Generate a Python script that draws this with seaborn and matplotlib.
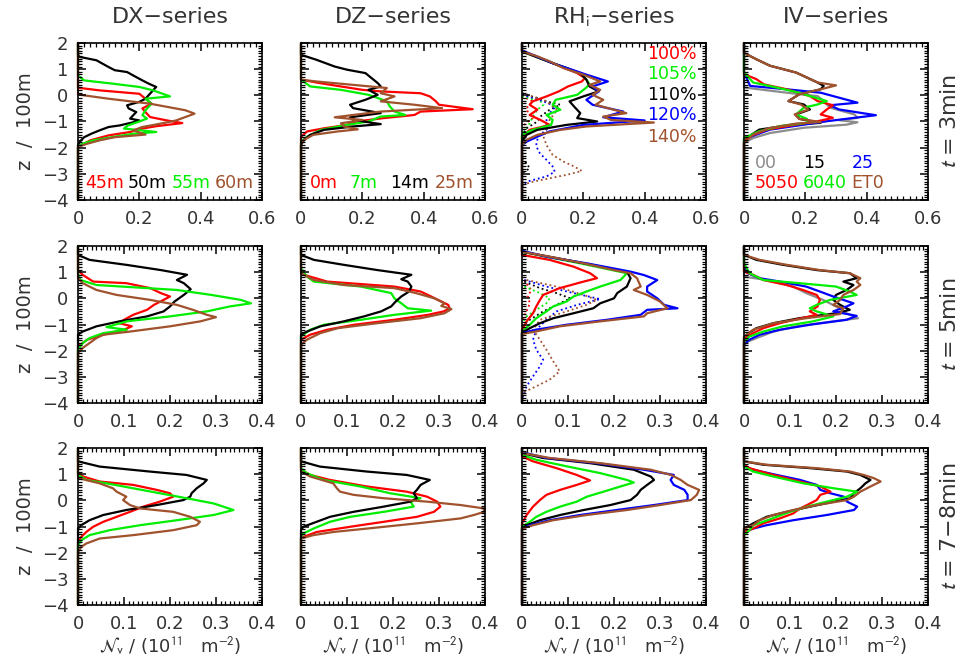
import matplotlib
matplotlib.use("Agg")
import matplotlib.pyplot as plt
import seaborn as sns
import pandas as pd
from matplotlib.ticker import MultipleLocator, FuncFormatter

# ---------------- data: vertical profiles, points are (N_v, z) ----------------
# DX-series, t = 3 min
dx3_45m = [(0.0, 0.29), (0.07, 0.19), (0.20, 0.06), (0.22, -0.13), (0.24, -0.32), (0.21, -0.50), (0.22, -0.64),
           (0.235, -0.83), (0.29, -0.96), (0.34, -1.06), (0.255, -1.18), (0.21, -1.27), (0.17, -1.40), (0.10, -1.53),
           (0.04, -1.72), (0.01, -1.91), (0.0, -1.98)]
dx3_50m = [(0.0, 1.55), (0.005, 1.47), (0.06, 1.34), (0.10, 1.08), (0.12, 0.96), (0.16, 0.89), (0.18, 0.76),
           (0.21, 0.57), (0.23, 0.45), (0.255, 0.32), (0.25, 0.26), (0.24, 0.13), (0.23, 0.0), (0.22, -0.13),
           (0.20, -0.25), (0.16, -0.38), (0.165, -0.50), (0.19, -0.64), (0.18, -0.76), (0.17, -0.89), (0.20, -0.96),
           (0.18, -1.03), (0.136, -1.15), (0.10, -1.21), (0.07, -1.34), (0.043, -1.47), (0.02, -1.60), (0.01, -1.72),
           (0.0, -1.90)]
dx3_55m = [(0.0, 0.76), (0.02, 0.57), (0.11, 0.45), (0.20, 0.32), (0.245, 0.19), (0.30, -0.04), (0.22, -0.13),
           (0.24, -0.32), (0.22, -0.57), (0.21, -0.76), (0.225, -0.89), (0.195, -1.02), (0.163, -1.15), (0.15, -1.27),
           (0.255, -1.40), (0.18, -1.47), (0.11, -1.60), (0.05, -1.72), (0.015, -1.85), (0.0, -1.97)]
dx3_60m = [(0.0, 0.03), (0.10, -0.13), (0.235, -0.32), (0.35, -0.57), (0.38, -0.70), (0.35, -0.83), (0.32, -0.96),
           (0.27, -1.08), (0.21, -1.21), (0.18, -1.34), (0.22, -1.50), (0.12, -1.60), (0.07, -1.72), (0.03, -1.85),
           (0.0, -1.97)]

# DZ-series, t = 3 min
dz3_0m = [(0.0, 0.60), (0.06, 0.47), (0.20, 0.21), (0.26, 0.15), (0.39, 0.08), (0.42, -0.04), (0.44, -0.23),
          (0.45, -0.36), (0.56, -0.53), (0.39, -0.62), (0.37, -0.75), (0.27, -0.87), (0.18, -1.00), (0.15, -1.13),
          (0.075, -1.26), (0.02, -1.38), (0.0, -1.58)]
dz3_7m = [(0.0, 0.60), (0.03, 0.34), (0.13, 0.21), (0.22, 0.02), (0.25, -0.10), (0.28, -0.23), (0.29, -0.43),
          (0.305, -0.62), (0.34, -0.75), (0.26, -0.81), (0.22, -1.00), (0.15, -1.13), (0.065, -1.32), (0.02, -1.58),
          (0.0, -1.77)]
dz3_14m = [(0.0, 1.55), (0.05, 1.36), (0.11, 1.10), (0.15, 0.98), (0.21, 0.85), (0.23, 0.66), (0.25, 0.47),
           (0.26, 0.34), (0.22, 0.21), (0.25, 0.02), (0.21, -0.17), (0.16, -0.36), (0.17, -0.49), (0.26, -0.68),
           (0.16, -0.84), (0.17, -0.94), (0.26, -1.10), (0.17, -1.19), (0.075, -1.32), (0.03, -1.51), (0.01, -1.70),
           (0.0, -1.90)]
dz3_25m = [(0.0, 0.60), (0.05, 0.53), (0.28, 0.28), (0.26, 0.08), (0.305, -0.04), (0.26, -0.23), (0.37, -0.36),
           (0.46, -0.49), (0.26, -0.62), (0.17, -0.75), (0.11, -0.84), (0.20, -0.94), (0.13, -1.07), (0.14, -1.19),
           (0.185, -1.30), (0.12, -1.38), (0.04, -1.51), (0.01, -1.70), (0.0, -1.83)]

# RHi-series, t = 3 min (solid: total, dotted: second population)
rh3_100 = [(0.0, 1.68), (0.10, 1.23), (0.18, 0.85), (0.205, 0.66), (0.195, 0.53), (0.15, 0.34), (0.12, 0.15),
           (0.08, -0.04), (0.035, -0.23), (0.025, -0.36), (0.05, -0.55), (0.025, -0.75), (0.06, -0.94), (0.09, -1.13),
           (0.025, -1.32), (0.0, -1.58)]
rh3_105 = [(0.0, 1.68), (0.10, 1.23), (0.19, 0.85), (0.21, 0.60), (0.22, 0.43), (0.21, 0.30), (0.18, 0.02),
           (0.11, -0.17), (0.10, -0.36), (0.125, -0.55), (0.08, -0.75), (0.10, -0.94), (0.095, -1.13), (0.035, -1.32),
           (0.0, -1.51)]
rh3_110 = [(0.0, 1.68), (0.10, 1.23), (0.19, 0.85), (0.21, 0.60), (0.22, 0.34), (0.25, 0.15), (0.20, -0.04),
           (0.155, -0.23), (0.17, -0.43), (0.19, -0.68), (0.18, -0.87), (0.245, -1.00), (0.145, -1.13), (0.05, -1.32),
           (0.015, -1.51), (0.0, -1.77)]
rh3_120 = [(0.0, 1.72), (0.10, 1.23), (0.21, 0.79), (0.28, 0.53), (0.23, 0.34), (0.25, 0.15), (0.21, -0.17),
           (0.23, -0.36), (0.33, -0.62), (0.265, -0.84), (0.40, -0.96), (0.20, -1.13), (0.09, -1.38), (0.05, -1.58),
           (0.015, -1.77), (0.0, -1.90)]
rh3_140 = [(0.0, 1.68), (0.05, 1.49), (0.09, 1.30), (0.135, 1.04), (0.20, 0.79), (0.255, 0.53), (0.22, 0.40),
           (0.255, 0.21), (0.23, 0.02), (0.265, -0.17), (0.24, -0.36), (0.34, -0.68), (0.265, -0.81), (0.29, -0.94),
           (0.43, -1.04), (0.21, -1.19), (0.125, -1.32), (0.05, -1.51), (0.015, -1.70), (0.0, -1.90)]
rh3_100d = [(0.0, -0.04), (0.035, -0.23), (0.025, -0.36), (0.015, -0.49), (0.02, -0.68), (0.035, -0.87),
            (0.02, -1.00), (0.0, -1.20)]
rh3_105d = [(0.0, -0.04), (0.06, -0.23), (0.07, -0.36), (0.05, -0.55), (0.035, -0.81), (0.025, -1.07),
            (0.01, -1.32), (0.0, -1.50)]
rh3_110d = [(0.0, 0.03), (0.05, -0.10), (0.08, -0.23), (0.125, -0.36), (0.09, -0.55), (0.06, -0.81), (0.05, -1.00),
            (0.015, -1.26), (0.0, -1.60), (0.0, -2.40), (0.015, -2.60), (0.025, -2.79), (0.0, -2.98)]
rh3_120d = [(0.0, 0.03), (0.07, -0.23), (0.11, -0.43), (0.09, -0.68), (0.08, -0.94), (0.08, -1.32), (0.058, -1.51),
            (0.047, -1.77), (0.047, -1.96), (0.058, -2.21), (0.08, -2.47), (0.10, -2.72), (0.107, -2.92),
            (0.08, -3.10), (0.015, -3.30), (0.0, -3.50)]
rh3_140d = [(0.0, 0.10), (0.08, -0.23), (0.115, -0.55), (0.09, -0.94), (0.08, -1.32), (0.07, -1.58), (0.08, -1.90),
            (0.10, -2.28), (0.135, -2.53), (0.17, -2.72), (0.195, -2.89), (0.145, -3.04), (0.09, -3.17),
            (0.036, -3.30), (0.0, -3.43)]

# IV-series, t = 3 min
iv3_00 = [(0.0, 0.30), (0.14, 0.10), (0.24, -0.03), (0.26, -0.22), (0.28, -0.47), (0.36, -0.73), (0.37, -0.86),
          (0.31, -0.95), (0.37, -1.03), (0.335, -1.12), (0.195, -1.24), (0.085, -1.44), (0.03, -1.63), (0.0, -1.82)]
iv3_15 = [(0.0, 1.62), (0.04, 1.38), (0.085, 1.13), (0.17, 0.87), (0.205, 0.68), (0.24, 0.49), (0.26, 0.36),
          (0.25, 0.23), (0.18, 0.04), (0.145, -0.22), (0.195, -0.35), (0.215, -0.54), (0.17, -0.73), (0.18, -0.90),
          (0.25, -1.05), (0.14, -1.15), (0.05, -1.31), (0.025, -1.50), (0.01, -1.66), (0.0, -1.82)]
iv3_25 = [(0.0, 0.87), (0.02, 0.36), (0.14, 0.23), (0.25, 0.10), (0.31, -0.09), (0.37, -0.28), (0.28, -0.38),
          (0.31, -0.54), (0.43, -0.76), (0.36, -0.86), (0.27, -0.99), (0.195, -1.12), (0.085, -1.31), (0.04, -1.50),
          (0.0, -1.69)]
iv3_5050 = [(0.0, 0.81), (0.04, 0.62), (0.065, 0.42), (0.14, 0.23), (0.215, -0.03), (0.24, -0.22), (0.29, -0.38),
            (0.27, -0.54), (0.25, -0.73), (0.29, -0.86), (0.24, -0.99), (0.17, -1.12), (0.075, -1.31), (0.02, -1.56),
            (0.0, -1.75)]
iv3_6040 = [(0.0, 0.87), (0.02, 0.62), (0.03, 0.49), (0.105, 0.30), (0.18, 0.10), (0.215, -0.03), (0.27, -0.22),
            (0.24, -0.35), (0.195, -0.47), (0.17, -0.73), (0.205, -0.90), (0.205, -1.05), (0.12, -1.17),
            (0.05, -1.37), (0.0, -1.63)]
iv3_et0 = [(0.0, 1.62), (0.04, 1.38), (0.085, 1.13), (0.17, 0.87), (0.205, 0.68), (0.24, 0.49), (0.30, 0.38),
           (0.25, 0.23), (0.18, 0.04), (0.145, -0.22), (0.185, -0.35), (0.21, -0.54), (0.165, -0.73), (0.18, -0.90),
           (0.25, -1.02), (0.17, -1.08), (0.08, -1.26), (0.03, -1.50), (0.0, -1.82)]

# DX-series, t = 5 min
dx5_45m = [(0.0, 1.08), (0.01, 0.90), (0.033, 0.64), (0.105, 0.58), (0.157, 0.39), (0.18, 0.20), (0.20, 0.07),
           (0.186, -0.06), (0.165, -0.25), (0.15, -0.44), (0.12, -0.63), (0.10, -0.82), (0.09, -0.95), (0.117, -1.07),
           (0.10, -1.20), (0.055, -1.39), (0.02, -1.58), (0.0, -1.84)]
dx5_50m = [(0.0, 1.66), (0.025, 1.47), (0.105, 1.28), (0.18, 1.08), (0.237, 0.90), (0.215, 0.70), (0.23, 0.58),
           (0.245, 0.35), (0.23, 0.13), (0.21, -0.12), (0.20, -0.31), (0.186, -0.50), (0.15, -0.69), (0.09, -0.88),
           (0.04, -1.07), (0.01, -1.27), (0.0, -1.39)]
dx5_55m = [(0.0, 0.96), (0.005, 0.70), (0.04, 0.51), (0.215, 0.32), (0.29, 0.13), (0.354, -0.06), (0.376, -0.19),
           (0.33, -0.31), (0.28, -0.50), (0.20, -0.69), (0.106, -0.88), (0.062, -1.10), (0.106, -1.20),
           (0.055, -1.33), (0.025, -1.52), (0.01, -1.71), (0.0, -1.96)]
dx5_60m = [(0.0, 0.77), (0.01, 0.58), (0.04, 0.32), (0.084, 0.13), (0.157, -0.06), (0.215, -0.25), (0.25, -0.44),
           (0.28, -0.63), (0.30, -0.72), (0.266, -0.88), (0.20, -1.07), (0.113, -1.27), (0.055, -1.39), (0.04, -1.52),
           (0.025, -1.71), (0.01, -1.90), (0.0, -2.09)]

# DZ-series, t = 5 min
dz5_0m = [(0.0, 1.02), (0.006, 0.90), (0.057, 0.64), (0.203, 0.45), (0.26, 0.26), (0.283, 0.07), (0.305, -0.12),
          (0.32, -0.25), (0.323, -0.38), (0.31, -0.50), (0.276, -0.63), (0.203, -0.82), (0.115, -1.01),
          (0.057, -1.20), (0.02, -1.39), (0.0, -1.58)]
dz5_7m = [(0.0, 1.15), (0.013, 0.83), (0.028, 0.64), (0.13, 0.45), (0.196, 0.20), (0.203, 0.0), (0.218, -0.19),
          (0.232, -0.38), (0.283, -0.47), (0.203, -0.63), (0.13, -0.82), (0.05, -1.01), (0.02, -1.20), (0.0, -1.46)]
dz5_14m = [(0.0, 1.66), (0.028, 1.47), (0.093, 1.28), (0.166, 1.08), (0.24, 0.90), (0.218, 0.73), (0.232, 0.64),
           (0.24, 0.45), (0.235, 0.26), (0.218, 0.07), (0.206, -0.12), (0.196, -0.31), (0.174, -0.50),
           (0.137, -0.69), (0.093, -0.88), (0.042, -1.07), (0.013, -1.27), (0.0, -1.39)]
dz5_25m = [(0.0, 0.96), (0.028, 0.70), (0.093, 0.51), (0.203, 0.39), (0.25, 0.20), (0.29, 0.0), (0.312, -0.19),
           (0.305, -0.29), (0.327, -0.41), (0.312, -0.57), (0.26, -0.76), (0.166, -0.95), (0.08, -1.14),
           (0.042, -1.33), (0.013, -1.58), (0.0, -1.77)]

# RHi-series, t = 5 min
rh5_100 = [(0.0, 1.66), (0.06, 1.47), (0.112, 1.21), (0.148, 0.96), (0.163, 0.77), (0.134, 0.64), (0.082, 0.39),
           (0.046, 0.13), (0.039, -0.06), (0.031, -0.31), (0.024, -0.57), (0.01, -0.88), (0.0, -1.20)]
rh5_105 = [(0.0, 1.78), (0.053, 1.59), (0.126, 1.34), (0.228, 0.96), (0.214, 0.70), (0.17, 0.45), (0.14, 0.26),
           (0.112, 0.07), (0.097, -0.12), (0.068, -0.31), (0.053, -0.50), (0.031, -0.76), (0.017, -1.01),
           (0.0, -1.27)]
rh5_110 = [(0.0, 1.78), (0.06, 1.59), (0.134, 1.34), (0.228, 1.02), (0.236, 0.77), (0.228, 0.45), (0.207, 0.20),
           (0.20, 0.0), (0.17, -0.19), (0.155, -0.38), (0.112, -0.57), (0.068, -0.76), (0.039, -0.95),
           (0.017, -1.14), (0.0, -1.33)]
rh5_120 = [(0.0, 1.82), (0.053, 1.59), (0.14, 1.34), (0.236, 1.02), (0.265, 0.89), (0.294, 0.70), (0.272, 0.45),
           (0.272, 0.26), (0.294, 0.0), (0.309, -0.25), (0.338, -0.38), (0.272, -0.44), (0.258, -0.63),
           (0.185, -0.82), (0.097, -1.01), (0.03, -1.20), (0.0, -1.33)]
rh5_140 = [(0.0, 1.78), (0.06, 1.59), (0.134, 1.34), (0.20, 1.08), (0.236, 0.96), (0.25, 0.77), (0.258, 0.45),
           (0.243, 0.32), (0.272, 0.13), (0.30, -0.12), (0.316, -0.38), (0.272, -0.57), (0.265, -0.69),
           (0.17, -0.88), (0.082, -1.07), (0.03, -1.27), (0.0, -1.36)]
rh5_100d = [(0.005, 0.70), (0.02, 0.32), (0.013, 0.07), (0.017, -0.19), (0.01, -0.50), (0.0, -0.82)]
rh5_105d = [(0.005, 0.45), (0.039, 0.20), (0.06, 0.0), (0.053, -0.19), (0.031, -0.44), (0.01, -0.69),
            (0.0, -0.95)]
rh5_110d = [(0.005, 0.64), (0.039, 0.39), (0.075, 0.20), (0.105, 0.0), (0.075, -0.25), (0.046, -0.50),
            (0.017, -0.82), (0.0, -1.07)]
rh5_120d = [(0.005, 0.70), (0.053, 0.45), (0.112, 0.20), (0.17, -0.03), (0.12, -0.25), (0.075, -0.50),
            (0.053, -0.82), (0.031, -1.20), (0.024, -1.58), (0.031, -1.96), (0.046, -2.35), (0.039, -2.60),
            (0.024, -2.98), (0.01, -3.36), (0.0, -3.85)]
rh5_140d = [(0.01, 0.70), (0.075, 0.45), (0.134, 0.13), (0.163, -0.06), (0.14, -0.25), (0.097, -0.50),
            (0.039, -0.82), (0.024, -1.20), (0.039, -1.58), (0.053, -1.96), (0.068, -2.41), (0.082, -2.79),
            (0.06, -3.11), (0.031, -3.36), (0.0, -3.62)]

# IV-series, t = 5 min
iv5_00 = [(0.0, 0.83), (0.049, 0.70), (0.107, 0.45), (0.135, 0.20), (0.172, -0.06), (0.20, -0.31), (0.223, -0.57),
          (0.248, -0.76), (0.194, -0.88), (0.114, -1.07), (0.064, -1.27), (0.027, -1.52), (0.0, -1.71)]
iv5_15 = [(0.0, 1.66), (0.027, 1.47), (0.085, 1.28), (0.158, 1.08), (0.23, 0.96), (0.245, 0.77), (0.216, 0.64),
          (0.238, 0.51), (0.223, 0.32), (0.20, 0.13), (0.194, -0.06), (0.209, -0.25), (0.23, -0.44), (0.20, -0.57),
          (0.12, -0.76), (0.064, -0.95), (0.027, -1.14), (0.01, -1.33), (0.0, -1.52)]
iv5_25 = [(0.0, 1.21), (0.008, 0.96), (0.034, 0.77), (0.078, 0.64), (0.135, 0.45), (0.165, 0.26), (0.194, 0.07),
          (0.238, -0.19), (0.223, -0.31), (0.194, -0.50), (0.245, -0.67), (0.223, -0.82), (0.143, -1.01),
          (0.078, -1.20), (0.034, -1.39), (0.012, -1.58), (0.0, -1.77)]
iv5_5050 = [(0.0, 1.02), (0.02, 0.90), (0.042, 0.70), (0.093, 0.51), (0.128, 0.32), (0.158, 0.13), (0.165, -0.06),
            (0.16, -0.31), (0.143, -0.50), (0.158, -0.63), (0.12, -0.78), (0.078, -0.95), (0.042, -1.14),
            (0.02, -1.33), (0.0, -1.52)]
iv5_6040 = [(0.0, 1.34), (0.012, 0.96), (0.042, 0.70), (0.12, 0.58), (0.20, 0.45), (0.23, 0.26), (0.245, 0.13),
            (0.187, -0.06), (0.158, -0.25), (0.143, -0.38), (0.158, -0.50), (0.194, -0.69), (0.15, -0.88),
            (0.085, -1.07), (0.042, -1.27), (0.012, -1.46), (0.0, -1.65)]
iv5_et0 = [(0.0, 1.66), (0.034, 1.47), (0.093, 1.28), (0.165, 1.08), (0.23, 0.96), (0.253, 0.77), (0.245, 0.64),
           (0.253, 0.51), (0.238, 0.32), (0.216, 0.13), (0.209, -0.06), (0.194, -0.25), (0.216, -0.38),
           (0.209, -0.60), (0.135, -0.76), (0.064, -0.95), (0.02, -1.20), (0.0, -1.46)]

# DX-series, t = 7-8 min
dx7_45m = [(0.0, 1.04), (0.011, 0.91), (0.047, 0.72), (0.12, 0.59), (0.171, 0.40), (0.20, 0.27), (0.207, 0.14),
           (0.178, -0.05), (0.142, -0.24), (0.113, -0.44), (0.084, -0.63), (0.055, -0.82), (0.033, -1.01),
           (0.018, -1.21), (0.007, -1.40), (0.0, -1.59)]
dx7_50m = [(0.0, 1.49), (0.047, 1.29), (0.156, 1.10), (0.236, 0.97), (0.28, 0.78), (0.273, 0.65), (0.258, 0.46),
           (0.247, 0.27), (0.244, 0.14), (0.229, 0.01), (0.171, -0.18), (0.105, -0.37), (0.055, -0.56),
           (0.025, -0.76), (0.007, -0.95), (0.0, -1.08)]
dx7_55m = [(0.0, 0.97), (0.018, 0.78), (0.062, 0.65), (0.12, 0.46), (0.178, 0.27), (0.236, 0.08), (0.295, -0.12),
           (0.338, -0.37), (0.295, -0.56), (0.215, -0.76), (0.135, -0.95), (0.069, -1.14), (0.025, -1.33),
           (0.007, -1.53), (0.0, -1.72)]
dx7_60m = [(0.0, 0.85), (0.047, 0.65), (0.076, 0.46), (0.084, 0.33), (0.105, 0.14), (0.098, 0.01), (0.113, -0.18),
           (0.135, -0.31), (0.207, -0.44), (0.244, -0.63), (0.265, -0.82), (0.258, -0.95), (0.207, -1.14),
           (0.12, -1.33), (0.047, -1.46), (0.018, -1.65), (0.007, -1.78), (0.0, -1.97)]

# DZ-series, t = 7-8 min
dz7_0m = [(0.0, 1.17), (0.02, 0.97), (0.063, 0.78), (0.143, 0.53), (0.23, 0.33), (0.274, 0.14), (0.296, -0.05),
          (0.303, -0.24), (0.289, -0.44), (0.252, -0.63), (0.18, -0.82), (0.107, -1.01), (0.034, -1.21),
          (0.005, -1.40), (0.0, -1.46)]
dz7_7m = [(0.0, 1.23), (0.012, 1.04), (0.049, 0.78), (0.129, 0.53), (0.194, 0.27), (0.26, 0.08), (0.238, -0.05),
          (0.245, -0.24), (0.18, -0.44), (0.107, -0.63), (0.063, -0.82), (0.027, -1.08), (0.005, -1.27),
          (0.0, -1.40)]
dz7_14m = [(0.0, 1.49), (0.041, 1.29), (0.143, 1.10), (0.23, 0.97), (0.28, 0.78), (0.26, 0.59), (0.252, 0.40),
           (0.245, 0.27), (0.252, 0.08), (0.238, -0.05), (0.18, -0.24), (0.114, -0.44), (0.063, -0.63),
           (0.034, -0.82), (0.005, -1.01), (0.0, -1.14)]
dz7_25m = [(0.0, 1.10), (0.02, 0.91), (0.07, 0.65), (0.078, 0.46), (0.085, 0.33), (0.114, 0.21), (0.18, 0.08),
           (0.274, -0.05), (0.347, -0.18), (0.398, -0.31), (0.398, -0.44), (0.376, -0.56), (0.347, -0.69),
           (0.252, -0.88), (0.143, -1.08), (0.07, -1.21), (0.027, -1.33), (0.0, -1.46)]

# RHi-series, t = 7-8 min
rh7_100 = [(0.0, 1.68), (0.024, 1.49), (0.075, 1.23), (0.119, 0.97), (0.148, 0.76), (0.119, 0.59), (0.083, 0.40),
           (0.053, 0.21), (0.039, 0.01), (0.024, -0.24), (0.01, -0.56), (0.0, -0.88)]
rh7_105 = [(0.0, 1.74), (0.031, 1.55), (0.097, 1.30), (0.17, 1.04), (0.228, 0.78), (0.243, 0.68), (0.214, 0.53),
           (0.177, 0.33), (0.141, 0.14), (0.119, -0.05), (0.083, -0.24), (0.053, -0.44), (0.031, -0.63),
           (0.017, -0.82), (0.0, -1.01)]
rh7_110 = [(0.0, 1.81), (0.045, 1.62), (0.148, 1.42), (0.243, 1.17), (0.28, 0.91), (0.287, 0.78), (0.272, 0.59),
           (0.258, 0.40), (0.25, 0.21), (0.236, 0.01), (0.192, -0.18), (0.134, -0.37), (0.083, -0.56),
           (0.039, -0.76), (0.01, -0.95), (0.0, -1.08)]
rh7_120 = [(0.0, 1.84), (0.053, 1.62), (0.163, 1.42), (0.265, 1.17), (0.33, 0.97), (0.323, 0.78), (0.33, 0.59),
           (0.353, 0.40), (0.36, 0.21), (0.36, 0.01), (0.287, -0.18), (0.206, -0.37), (0.126, -0.56), (0.06, -0.76),
           (0.017, -0.95), (0.0, -1.08)]
rh7_140 = [(0.0, 1.81), (0.06, 1.62), (0.17, 1.42), (0.28, 1.17), (0.324, 0.97), (0.345, 0.78), (0.36, 0.59),
           (0.385, 0.40), (0.38, 0.21), (0.367, 0.01), (0.30, -0.18), (0.228, -0.37), (0.141, -0.56),
           (0.068, -0.76), (0.024, -0.95), (0.0, -1.08)]

# IV-series, t = 7-8 min
iv7_15 = [(0.0, 1.49), (0.042, 1.36), (0.144, 1.23), (0.224, 1.10), (0.253, 0.97), (0.275, 0.78), (0.264, 0.65),
          (0.253, 0.46), (0.239, 0.27), (0.231, 0.08), (0.195, -0.05), (0.144, -0.24), (0.093, -0.44),
          (0.049, -0.63), (0.02, -0.88), (0.0, -1.08)]
iv7_25 = [(0.0, 1.29), (0.02, 1.17), (0.071, 0.97), (0.122, 0.78), (0.158, 0.59), (0.166, 0.40), (0.188, 0.27),
          (0.217, 0.14), (0.224, -0.05), (0.246, -0.24), (0.239, -0.37), (0.18, -0.56), (0.107, -0.76),
          (0.049, -0.95), (0.02, -1.08), (0.0, -1.21)]
iv7_5050 = [(0.0, 1.36), (0.012, 1.23), (0.049, 1.04), (0.107, 0.78), (0.166, 0.53), (0.188, 0.33), (0.166, 0.21),
            (0.158, 0.01), (0.137, -0.18), (0.122, -0.31), (0.107, -0.50), (0.078, -0.69), (0.042, -0.88),
            (0.02, -1.08), (0.0, -1.21)]
iv7_6040 = [(0.0, 1.29), (0.02, 1.10), (0.064, 0.91), (0.129, 0.65), (0.195, 0.46), (0.246, 0.33), (0.224, 0.14),
            (0.18, -0.05), (0.137, -0.24), (0.10, -0.44), (0.071, -0.63), (0.042, -0.82), (0.02, -0.95),
            (0.012, -1.14), (0.0, -1.33)]
iv7_et0 = [(0.0, 1.49), (0.049, 1.36), (0.158, 1.23), (0.231, 1.10), (0.26, 0.97), (0.282, 0.85), (0.297, 0.72),
           (0.275, 0.53), (0.253, 0.33), (0.239, 0.14), (0.224, 0.01), (0.158, -0.18), (0.107, -0.37),
           (0.064, -0.56), (0.034, -0.76), (0.02, -0.95), (0.0, -1.08)]

# labels
col_titles = ["DX\u2212series", "DZ\u2212series", "RH$_{\\mathrm{i}}$\u2212series", "IV\u2212series"]
row_labels = ["$t$ = 3min", "$t$ = 5min", "$t$ = 7\u22128min"]
row_xmax = [0.6, 0.4, 0.4]
dx_names = ["45m", "50m", "55m", "60m"]
dz_names = ["0m", "7m", "14m", "25m"]
rh_names = ["100%", "105%", "110%", "120%", "140%"]
iv_names = ["00", "15", "25", "5050", "6040", "ET0"]

# colours
RED, BLK, GRN, BRN, BLU, GRY = "#ff0000", "#000000", "#00ee00", "#a0522d", "#0000ff", "#8c8c8c"

# panel contents: (curve, colour, dotted)
panels = [
    [[(dx3_45m, RED, 0), (dx3_50m, BLK, 0), (dx3_55m, GRN, 0), (dx3_60m, BRN, 0)],
     [(dz3_0m, RED, 0), (dz3_7m, GRN, 0), (dz3_14m, BLK, 0), (dz3_25m, BRN, 0)],
     [(rh3_100d, RED, 1), (rh3_105d, GRN, 1), (rh3_110d, BLK, 1), (rh3_120d, BLU, 1), (rh3_140d, BRN, 1),
      (rh3_100, RED, 0), (rh3_105, GRN, 0), (rh3_110, BLK, 0), (rh3_120, BLU, 0), (rh3_140, BRN, 0)],
     [(iv3_00, GRY, 0), (iv3_15, BLK, 0), (iv3_25, BLU, 0), (iv3_5050, RED, 0), (iv3_6040, GRN, 0),
      (iv3_et0, BRN, 0)]],
    [[(dx5_45m, RED, 0), (dx5_50m, BLK, 0), (dx5_55m, GRN, 0), (dx5_60m, BRN, 0)],
     [(dz5_0m, RED, 0), (dz5_7m, GRN, 0), (dz5_14m, BLK, 0), (dz5_25m, BRN, 0)],
     [(rh5_100d, RED, 1), (rh5_105d, GRN, 1), (rh5_110d, BLK, 1), (rh5_120d, BLU, 1), (rh5_140d, BRN, 1),
      (rh5_100, RED, 0), (rh5_105, GRN, 0), (rh5_110, BLK, 0), (rh5_120, BLU, 0), (rh5_140, BRN, 0)],
     [(iv5_00, GRY, 0), (iv5_15, BLK, 0), (iv5_25, BLU, 0), (iv5_5050, RED, 0), (iv5_6040, GRN, 0),
      (iv5_et0, BRN, 0)]],
    [[(dx7_45m, RED, 0), (dx7_50m, BLK, 0), (dx7_55m, GRN, 0), (dx7_60m, BRN, 0)],
     [(dz7_0m, RED, 0), (dz7_7m, GRN, 0), (dz7_14m, BLK, 0), (dz7_25m, BRN, 0)],
     [(rh7_100, RED, 0), (rh7_105, GRN, 0), (rh7_110, BLK, 0), (rh7_120, BLU, 0), (rh7_140, BRN, 0)],
     [(iv7_15, BLK, 0), (iv7_25, BLU, 0), (iv7_5050, RED, 0), (iv7_6040, GRN, 0), (iv7_et0, BRN, 0)]],
]

# ---------------- style ----------------
sns.set_style("ticks")
plt.rcParams.update({
    'font.family': ['DejaVu Sans'],
    'mathtext.fontset': 'stixsans',
    'axes.axisbelow': False,
    'xtick.direction': 'in', 'ytick.direction': 'in',
    'xtick.top': True, 'ytick.right': True,
    'xtick.major.size': 6, 'ytick.major.size': 6,
    'xtick.minor.size': 3, 'ytick.minor.size': 3,
    'xtick.major.width': 1.1, 'ytick.major.width': 1.1,
    'xtick.minor.width': 0.9, 'ytick.minor.width': 0.9,
    'xtick.color': 'black', 'ytick.color': 'black',
    'xtick.labelcolor': '#333333', 'ytick.labelcolor': '#333333',
    'xtick.minor.visible': True, 'ytick.minor.visible': True,
})
TXT = "#333333"

W, H = 970, 662
fig = plt.figure(figsize=(W / 100, H / 100), dpi=100)
col_left = [78, 301, 522, 744]
row_top = [43, 246, 448]
aw, ah = 184, 157


def draw(ax, pts, color, dotted):
    if not dotted:
        # profile is zero outside the listed range: run along the axis over the full height
        pts = [(0.0, 2.0)] + pts + [(0.0, -4.0)]
    df = pd.DataFrame(pts, columns=["N", "z"])
    sns.lineplot(data=df, x="N", y="z", sort=False, estimator=None, color=color, ax=ax,
                 lw=1.3 if dotted else 1.6, ls=(0, (1, 1.6)) if dotted else "-", clip_on=False, zorder=1)


fmt = FuncFormatter(lambda v, p: "0" if abs(v) < 1e-9 else f"{v:.1f}")

for r in range(3):
    for c in range(4):
        ax = fig.add_axes([col_left[c] / W, 1 - (row_top[r] + ah) / H, aw / W, ah / H])
        for pts, color, dotted in panels[r][c]:
            draw(ax, pts, color, dotted)
        ax.set_axisbelow(False)
        ax.set_xlim(0, row_xmax[r])
        ax.set_ylim(-4, 2)
        ax.xaxis.set_major_locator(MultipleLocator(0.2 if r == 0 else 0.1))
        ax.xaxis.set_minor_locator(MultipleLocator(0.02 if r == 0 else 0.01))
        ax.xaxis.set_major_formatter(fmt)
        ax.yaxis.set_major_locator(MultipleLocator(1))
        ax.yaxis.set_minor_locator(MultipleLocator(0.1))
        ax.tick_params(which="both", direction="in", top=True, right=True, bottom=True, left=True,
                       labelsize=13, pad=7, labelleft=(c == 0))
        for s in ax.spines.values():
            s.set_linewidth(1.2)
            s.set_color("black")
            s.set_zorder(3)
        ax.set_xlabel("")
        ax.set_ylabel("")

        # in-panel series labels
        if r == 0:
            if c == 0:
                for name, xp, col in zip(dx_names, [0.022, 0.163, 0.304, 0.446], [RED, BLK, GRN, BRN]):
                    ax.text(xp, -3.35, name, color=col, fontsize=12.5, va="center", ha="left")
            elif c == 1:
                for name, xp, col in zip(dz_names, [0.029, 0.16, 0.29, 0.437], [RED, GRN, BLK, BRN]):
                    ax.text(xp, -3.36, name, color=col, fontsize=12.5, va="center", ha="left")
            elif c == 2:
                for name, zp, col in zip(rh_names, [1.58, 0.80, 0.01, -0.75, -1.58], [RED, GRN, BLK, BLU, BRN]):
                    ax.text(0.571, zp, name, color=col, fontsize=12.5, va="center", ha="right")
            else:
                for i, (name, col) in enumerate(zip(iv_names, [GRY, BLK, BLU, RED, GRN, BRN])):
                    xp = [0.034, 0.192, 0.35][i % 3]
                    zp = -2.57 if i < 3 else -3.34
                    ax.text(xp, zp, name, color=col, fontsize=12.5, va="center", ha="left")

        if r == 2:
            ax.set_xlabel(r"$\mathcal{N}_{\mathrm{v}}$ / (10$^{11}$   m$^{-2}$)", fontsize=13,
                          color=TXT, labelpad=2)

# column titles, row labels, y labels
for c in range(4):
    fig.text((col_left[c] + aw / 2) / W, 1 - 17 / H, col_titles[c], fontsize=16, color=TXT,
             ha="center", va="center")
for r in range(3):
    yc = 1 - (row_top[r] + ah / 2) / H
    fig.text(950 / W, yc, row_labels[r], fontsize=16, color=TXT, rotation=90, ha="center", va="center")
    fig.text(26 / W, yc, "z  /  100m", fontsize=14, color=TXT, rotation=90, ha="center", va="center")

fig.savefig("out.png", dpi=100)
